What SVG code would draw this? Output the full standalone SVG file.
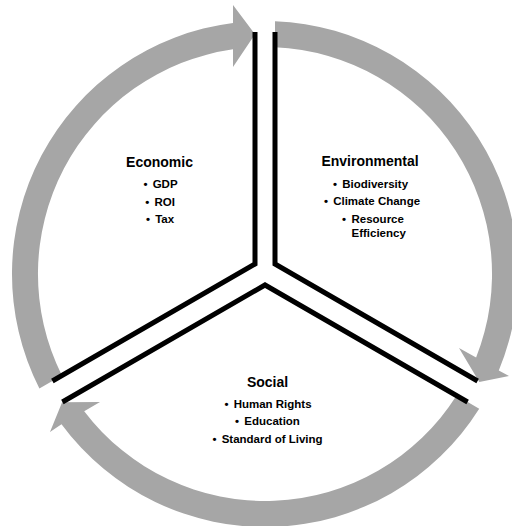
<svg xmlns="http://www.w3.org/2000/svg" width="512" height="526" viewBox="0 0 512 526">
<style>
.arrow{fill:#A6A6A6;stroke:none}
.edge{fill:none;stroke:#000;stroke-width:5;stroke-linejoin:miter;stroke-linecap:butt}
.title{font-family:"Liberation Sans",Arial,sans-serif;font-weight:bold;font-size:14px;fill:#000;text-anchor:middle}
.item{font-family:"Liberation Sans",Arial,sans-serif;font-weight:bold;font-size:11.5px;fill:#000;text-anchor:middle}
.itemL{font-family:"Liberation Sans",Arial,sans-serif;font-weight:bold;font-size:11.5px;fill:#000;text-anchor:start}
</style>
<rect width="512" height="526" fill="#fff"/>
<g id="connectors">
<path class="arrow" d="M 61.9,375.5 A 227 227 0 0 1 233,49.3 L 233,67 L 255,34.2 L 233,5 L 233,23 A 253 253 0 0 0 39.4,388.5 Z"/>
<path class="arrow" d="M 275,47.2 A 227 227 0 0 1 476.1,357.5 L 459,348 L 479.3,382 L 509,376 L 498.8,370.6 A 253 253 0 0 0 275,21.2 Z"/>
<path class="arrow" d="M 456.6,395.6 A 227 227 0 0 1 84.2,411.2 L 100,402 L 62.1,402.2 L 50,432 L 61.5,424.3 A 253 253 0 0 0 479.2,408.7 Z"/>
</g>
<g id="economic">
<path class="edge" d="M 255,32 L 255,264 L 52.4,381"/>
<text class="title" x="159.5" y="167">Economic</text>
<text class="item" x="160.5" y="188">• <tspan dx="2">GDP</tspan></text>
<text class="item" x="160" y="205.5">• <tspan dx="2">ROI</tspan></text>
<text class="item" x="160" y="223">• <tspan dx="2">Tax</tspan></text>
</g>
<g id="environmental">
<path class="edge" d="M 275,32 L 275,264 L 477.6,381"/>
<text class="title" x="370" y="166">Environmental</text>
<text class="item" x="370.5" y="188">• <tspan dx="2">Biodiversity</tspan></text>
<text class="item" x="372" y="205">• <tspan dx="2">Climate Change</tspan></text>
<text class="itemL" x="342" y="222.5">•</text>
<text class="itemL" x="351.5" y="222.5">Resource</text>
<text class="itemL" x="351.5" y="236.5">Efficiency</text>
</g>
<g id="social">
<path class="edge" d="M 62.4,402 L 265,285 L 467.6,402"/>
<text class="title" x="267.5" y="386.5">Social</text>
<text class="item" x="268" y="408">• <tspan dx="2">Human Rights</tspan></text>
<text class="item" x="267.5" y="425">• <tspan dx="2">Education</tspan></text>
<text class="item" x="267.5" y="443">• <tspan dx="2">Standard of Living</tspan></text>
</g>
</svg>
